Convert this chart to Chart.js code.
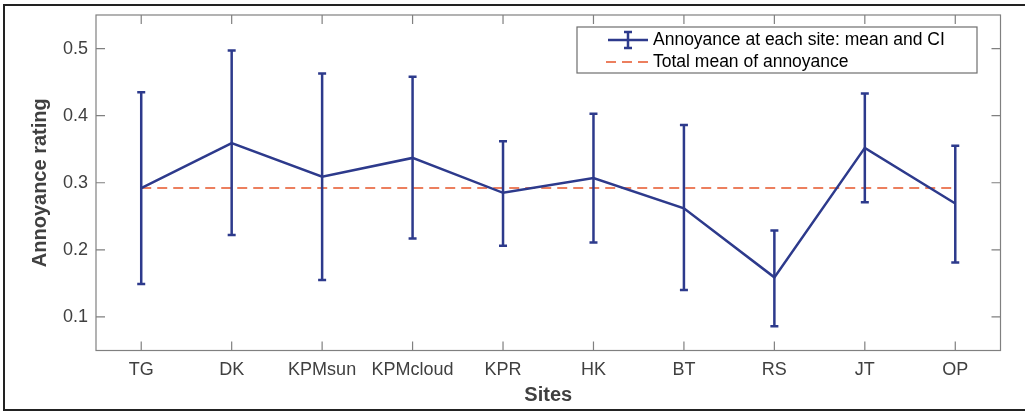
<!DOCTYPE html>
<html>
<head>
<meta charset="utf-8">
<script src="https://cdn.jsdelivr.net/npm/chart.js@4/dist/chart.umd.min.js"></script>
<style>
  html, body { margin: 0; padding: 0; background: #fff; }
  #wrap { width: 1025px; height: 412px; position: relative; }
</style>
</head>
<body>
<div id="wrap"><canvas id="myChart"></canvas></div>
<script>
var sites = ["TG", "DK", "KPMsun", "KPMcloud", "KPR", "HK", "BT", "RS", "JT", "OP"];
var meanRating = [0.292, 0.359, 0.309, 0.337, 0.285, 0.307, 0.262, 0.159, 0.352, 0.269];
var ciLow = [0.149, 0.222, 0.155, 0.217, 0.206, 0.211, 0.140, 0.086, 0.271, 0.181];
var ciHigh = [0.435, 0.497, 0.463, 0.458, 0.362, 0.403, 0.386, 0.229, 0.433, 0.355];
var totalMean = 0.292;
var yTicks = [0.1, 0.2, 0.3, 0.4, 0.5];

var blue = '#2D3A8C';
var orange = '#E6552A';
var axisGray = '#808080';
var font = '"Liberation Sans", Arial, Helvetica, sans-serif';

// error bars, axes box with inward ticks, legend and figure frame
var extras = {
    id: 'extras',
    afterDatasetsDraw: function (chart) {
        var ctx = chart.ctx;
        var x = chart.scales.x, y = chart.scales.y;
        ctx.save();
        ctx.strokeStyle = blue;
        ctx.lineWidth = 2.5;
        for (var i = 0; i < sites.length; i++) {
            var px = x.getPixelForValue(i);
            var lo = y.getPixelForValue(ciLow[i]);
            var hi = y.getPixelForValue(ciHigh[i]);
            ctx.beginPath();
            ctx.moveTo(px, lo); ctx.lineTo(px, hi);
            ctx.moveTo(px - 4, lo); ctx.lineTo(px + 4, lo);
            ctx.moveTo(px - 4, hi); ctx.lineTo(px + 4, hi);
            ctx.stroke();
        }
        ctx.restore();
    },
    afterDraw: function (chart) {
        var ctx = chart.ctx;
        var a = chart.chartArea;
        var x = chart.scales.x, y = chart.scales.y;
        ctx.save();
        // axes box
        ctx.strokeStyle = axisGray;
        ctx.lineWidth = 1.2;
        ctx.strokeRect(a.left, a.top, a.right - a.left, a.bottom - a.top);
        ctx.beginPath();
        for (var i = 0; i < sites.length; i++) {
            var px = x.getPixelForValue(i);
            ctx.moveTo(px, a.bottom); ctx.lineTo(px, a.bottom - 9);
            ctx.moveTo(px, a.top); ctx.lineTo(px, a.top + 9);
        }
        yTicks.forEach(function (v) {
            var py = y.getPixelForValue(v);
            ctx.moveTo(a.left, py); ctx.lineTo(a.left + 9, py);
            ctx.moveTo(a.right, py); ctx.lineTo(a.right - 9, py);
        });
        ctx.stroke();

        // legend
        var lx = 577, ly = 27, lw = 400, lh = 46;
        ctx.fillStyle = '#fff';
        ctx.fillRect(lx, ly, lw, lh);
        ctx.strokeStyle = '#6e6e6e';
        ctx.lineWidth = 1.2;
        ctx.strokeRect(lx, ly, lw, lh);
        var r1 = 40, r2 = 62;
        ctx.strokeStyle = blue;
        ctx.lineWidth = 2.5;
        ctx.beginPath();
        ctx.moveTo(608, r1); ctx.lineTo(648, r1);
        ctx.moveTo(628, r1 - 8); ctx.lineTo(628, r1 + 8);
        ctx.moveTo(624, r1 - 8); ctx.lineTo(632, r1 - 8);
        ctx.moveTo(624, r1 + 8); ctx.lineTo(632, r1 + 8);
        ctx.stroke();
        ctx.strokeStyle = orange;
        ctx.lineWidth = 1.5;
        ctx.setLineDash([10, 6]);
        ctx.beginPath();
        ctx.moveTo(606, r2); ctx.lineTo(650, r2);
        ctx.stroke();
        ctx.setLineDash([]);
        ctx.fillStyle = '#000';
        ctx.font = '17.5px ' + font;
        ctx.textBaseline = 'middle';
        ctx.fillText('Annoyance at each site: mean and CI', 653, r1);
        ctx.fillText('Total mean of annoyance', 653, r2);

        // figure frame
        ctx.strokeStyle = '#222';
        ctx.lineWidth = 2;
        ctx.beginPath();
        ctx.moveTo(1030, 5); ctx.lineTo(4, 5); ctx.lineTo(4, 410); ctx.lineTo(1030, 410);
        ctx.stroke();
        ctx.restore();
    }
};

var ctx = document.getElementById("myChart");
var myChart = new Chart(ctx, {
    type: 'line',
    data: {
        labels: sites,
        datasets: [{
                label: "Annoyance at each site: mean and CI",
                data: meanRating,
                borderColor: blue,
                borderWidth: 2.5,
                pointRadius: 0,
                tension: 0,
                fill: false
            }, {
                label: "Total mean of annoyance",
                data: sites.map(function () { return totalMean; }),
                borderColor: orange,
                borderWidth: 1.5,
                borderDash: [10, 6],
                pointRadius: 0,
                fill: false
            }
        ]
    },
    options: {
        responsive: true,
        maintainAspectRatio: false,
        animation: false,
        layout: {padding: {left: 0, right: 24.5, top: 15, bottom: 0}},
        plugins: {
            legend: {display: false},
            tooltip: {enabled: false}
        },
        scales: {
            x: {
                offset: true,
                grid: {display: false, drawTicks: false},
                border: {display: false},
                ticks: {color: '#404040', font: {size: 18, family: font}, padding: 9, maxRotation: 0, autoSkip: false},
                title: {display: true, text: 'Sites', color: '#404040', font: {size: 20, weight: 'bold', family: font}, padding: {top: 0, bottom: 5}},
                afterFit: function (scale) { scale.height = 61.5; }
            },
            y: {
                min: 0.05,
                max: 0.55,
                grid: {display: false, drawTicks: false},
                border: {display: false},
                ticks: {color: '#404040', font: {size: 18, family: font}, padding: 8,
                    callback: function (v) { return v.toFixed(1); }},
                afterBuildTicks: function (scale) {
                    scale.ticks = yTicks.map(function (v) { return {value: v}; });
                },
                title: {display: true, text: 'Annoyance rating', color: '#404040', font: {size: 20, weight: 'bold', family: font}, padding: {top: 28, bottom: 0}},
                afterFit: function (scale) {
                    scale.width = 96;
                    scale.paddingTop = 0;
                    scale.paddingBottom = 0;
                }
            }
        }
    },
    plugins: [extras]
});
</script>
</body>
</html>
